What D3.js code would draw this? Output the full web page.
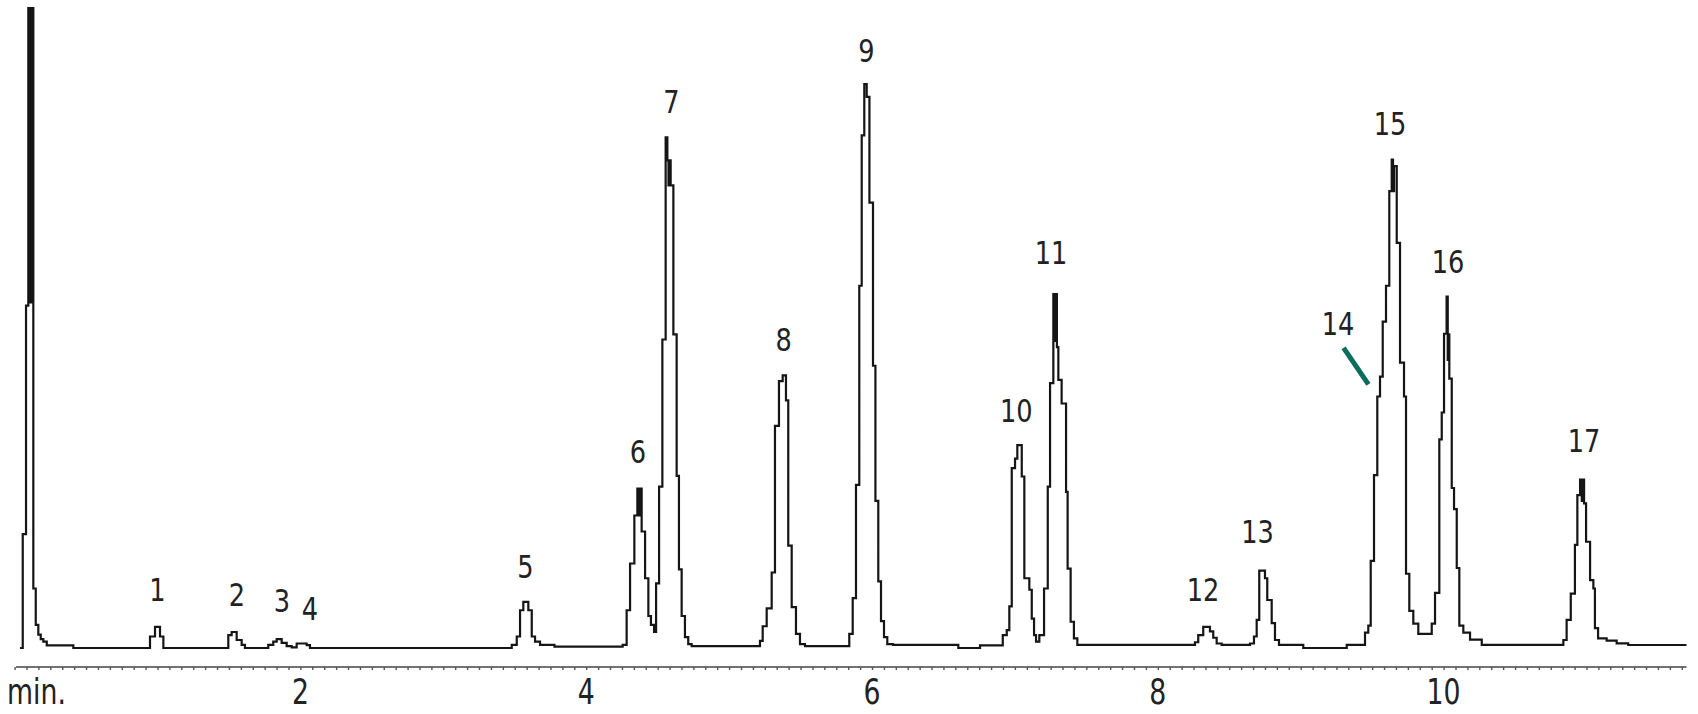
<!DOCTYPE html>
<html>
<head>
<meta charset="utf-8">
<script src="https://cdn.jsdelivr.net/npm/d3@7"></script>
<style>
  html, body { margin: 0; padding: 0; background: #ffffff; }
  svg { display: block; }
</style>
</head>
<body>
<svg id="chart" width="1698" height="714"></svg>
<script>
// ---- data: chromatogram trace as step vertices [time (min), signal (% full scale)] ----
const segSolvent = [
  [0.038, 0], [0.057, 17.8], [0.080, 53.5], [0.096, 100], [0.103, 54], [0.110, 100],
  [0.117, 54], [0.124, 100], [0.131, 9.3], [0.148, 3.6], [0.166, 2.1], [0.183, 1.4],
  [0.201, 1.0], [0.225, 0.4], [0.411, 0]
];
const segPeaks1to5 = [
  [0.9475, 1.8], [0.9825, 3.3], [1.0175, 1.8], [1.041, 0],
  [1.4955, 2.0], [1.519, 2.5], [1.554, 1.25], [1.589, 0.5], [1.612, 0],
  [1.775, 0.5], [1.810, 1.0], [1.834, 1.4], [1.869, 0.8], [1.904, 0.3], [1.939, 0.1],
  [1.974, 0.7], [2.044, 0.45], [2.067, 0],
  [3.479, 0.5], [3.514, 1.8], [3.537, 5.9], [3.560, 7.2], [3.595, 5.9], [3.619, 1.8],
  [3.642, 1.0], [3.677, 0.5], [3.778, 0.2]
];
const segPeaks6to9 = [
  [4.255, 0.5], [4.283, 5.9], [4.307, 13.2], [4.337, 20.7], [4.358, 24.9], [4.368, 20.7],
  [4.376, 24.9], [4.388, 18.2], [4.412, 10.9], [4.435, 5.0], [4.453, 3.6], [4.475, 2.5],
  [4.489, 10.1], [4.510, 25.2], [4.533, 48.2], [4.556, 79.8], [4.568, 76.2], [4.576, 72.3],
  [4.583, 76.2], [4.591, 72.3], [4.610, 49.0], [4.633, 26.9], [4.649, 12.3], [4.668, 5.0],
  [4.691, 1.7], [4.714, 0.6], [4.738, 0.3],
  [5.216, 1.1], [5.235, 3.4], [5.263, 6.2], [5.298, 11.8], [5.321, 34.7], [5.349, 41.7],
  [5.375, 42.6], [5.398, 38.7], [5.414, 16.0], [5.438, 6.4], [5.468, 2.2], [5.496, 0.6],
  [5.531, 0.3],
  [5.841, 2.2], [5.865, 7.8], [5.888, 25.5], [5.911, 56.6], [5.928, 80.1], [5.946, 88.1],
  [5.963, 86.1], [5.982, 69.6], [6.007, 44.1], [6.024, 23.0], [6.044, 10.4], [6.063, 4.2],
  [6.084, 1.7], [6.107, 0.6], [6.147, 0.5]
];
const segPeaks10to13 = [
  [6.604, 0.0], [6.756, 0.4],
  [6.915, 2.0], [6.943, 2.8], [6.961, 6.5], [6.978, 28.1], [7.001, 29.6], [7.017, 31.7],
  [7.048, 26.8], [7.066, 10.9], [7.101, 9.1], [7.118, 4.6], [7.134, 2.0], [7.148, 1.0],
  [7.171, 2.0], [7.204, 9.3], [7.230, 25.2], [7.246, 41.4], [7.269, 55.3], [7.279, 48.0],
  [7.286, 55.3], [7.294, 47.0], [7.304, 41.9], [7.327, 38.2], [7.358, 24.4], [7.369, 12.4],
  [7.390, 4.1], [7.413, 1.5], [7.437, 0.5],
  [8.260, 0.9], [8.283, 2.0], [8.318, 3.3], [8.365, 2.6], [8.388, 1.6], [8.412, 0.7],
  [8.447, 0.5],
  [8.645, 0.7], [8.673, 1.8], [8.692, 4.4], [8.710, 12.1], [8.750, 10.9], [8.766, 7.5],
  [8.797, 3.9], [8.820, 1.25], [8.848, 0.5], [9.018, 0.0]
];
const segPeaks14to17 = [
  [9.322, 0.5], [9.450, 2.4], [9.473, 3.5], [9.490, 13.6], [9.513, 27.0], [9.536, 39.3],
  [9.555, 42.4], [9.574, 51.0], [9.597, 56.6], [9.620, 71.4], [9.637, 76.3], [9.646, 71.4],
  [9.653, 75.3], [9.672, 63.3], [9.695, 44.6], [9.723, 39.3], [9.737, 11.6], [9.760, 5.8],
  [9.788, 3.8], [9.823, 2.2], [9.917, 3.8], [9.940, 8.6], [9.970, 32.6], [9.987, 36.8],
  [10.003, 49.1], [10.021, 54.9], [10.029, 45.0], [10.035, 49.0], [10.040, 42.1], [10.057, 25.0],
  [10.073, 21.7], [10.092, 12.5], [10.110, 3.5], [10.138, 2.4], [10.185, 1.3],
  [10.267, 0.5],
  [10.838, 1.25], [10.861, 4.4], [10.890, 8.5], [10.919, 16.1], [10.936, 23.9],
  [10.955, 26.3], [10.967, 23.0], [10.975, 26.3], [10.983, 22.6], [10.997, 16.6],
  [11.025, 10.6], [11.048, 9.3], [11.059, 3.1], [11.081, 1.5], [11.141, 1.15],
  [11.211, 0.73], [11.292, 0.47], [11.70, 0.47]
];

// peak labels: number, label time (min), label baseline (signal units)
const peakIds     = ["1","2","3","4","5","6","7","8","9","10","11","12","13","14","15","16","17"];
const peakLabelT  = [1.000, 1.556, 1.871, 2.067, 3.575, 4.362, 4.596, 5.381, 5.961, 7.010, 7.253, 8.316, 8.698, 9.261, 9.625, 10.031, 10.983];
const peakLabelV  = [7.27, 6.53, 5.58, 4.42, 10.94, 28.94, 83.66, 46.33, 91.56, 35.34, 60.0, 7.27, 16.38, 48.83, 80.09, 58.59, 30.69];

// marker for shoulder peak 14: [time, signal]
const marker14 = [[9.300, 46.9], [9.474, 41.2]];

// axis
const xTickLabels = [2, 4, 6, 8, 10];
const axisUnit = "min.";
const xDomain = [0, 11.7];
const yDomain = [0, 100];

// ---- drawing ----
const svg = d3.select("#chart");
const x = d3.scaleLinear().domain(xDomain).range([14.6, 14.6 + 142.9 * 11.7]);
const y = d3.scaleLinear().domain(yDomain).range([648, 8]);

const trace = [].concat(segSolvent, segPeaks1to5, segPeaks6to9, segPeaks10to13, segPeaks14to17);

const line = d3.line()
  .x(d => x(d[0]))
  .y(d => y(d[1]))
  .curve(d3.curveStepAfter);

svg.append("path")
  .datum(trace)
  .attr("d", line)
  .attr("fill", "none")
  .attr("stroke", "#151515")
  .attr("stroke-width", 2.2)
  .attr("stroke-linejoin", "miter");

// axis with minor ticks
const axisY = 667;
const minorTicks = d3.range(0, 11.7 + 1e-9, 1 / 12);
const axisG = svg.append("g").attr("transform", `translate(0,${axisY})`);
axisG.call(d3.axisBottom(x).tickValues(minorTicks).tickSize(3).tickFormat(""));
axisG.select(".domain").attr("stroke", "#444").attr("stroke-width", 1.5)
  .attr("d", `M${x(0.01)},0H${x(11.7)}`);
axisG.selectAll(".tick line").attr("stroke", "#555").attr("stroke-width", 1.4);

const fontFam = "'DejaVu Sans Condensed', 'DejaVu Sans', sans-serif";
const labelBase = 704;

// tick labels (condensed, slightly tall)
const tickLabelG = svg.append("g");
tickLabelG.selectAll("text")
  .data(xTickLabels)
  .join("text")
  .attr("transform", d => `translate(${x(d)},${labelBase}) scale(0.9,1.1)`)
  .attr("text-anchor", "middle")
  .attr("fill", "#222")
  .style("font-family", fontFam)
  .style("font-size", "33px")
  .text(d => d3.format("d")(d));

svg.append("text")
  .attr("transform", `translate(7,${labelBase}) scale(0.9,1.1)`)
  .attr("fill", "#222")
  .style("font-family", fontFam)
  .style("font-size", "33px")
  .text(axisUnit);

// peak labels
svg.append("g").selectAll("text")
  .data(peakIds)
  .join("text")
  .attr("transform", (d, i) => `translate(${x(peakLabelT[i])},${y(peakLabelV[i])}) scale(0.95,1.05)`)
  .attr("text-anchor", "middle")
  .attr("fill", "#222")
  .style("font-family", fontFam)
  .style("font-size", "30px")
  .text(d => d);

// shoulder marker
svg.append("line")
  .attr("x1", x(marker14[0][0])).attr("y1", y(marker14[0][1]))
  .attr("x2", x(marker14[1][0])).attr("y2", y(marker14[1][1]))
  .attr("stroke", "#0b6e5c")
  .attr("stroke-width", 5);
</script>
</body>
</html>
